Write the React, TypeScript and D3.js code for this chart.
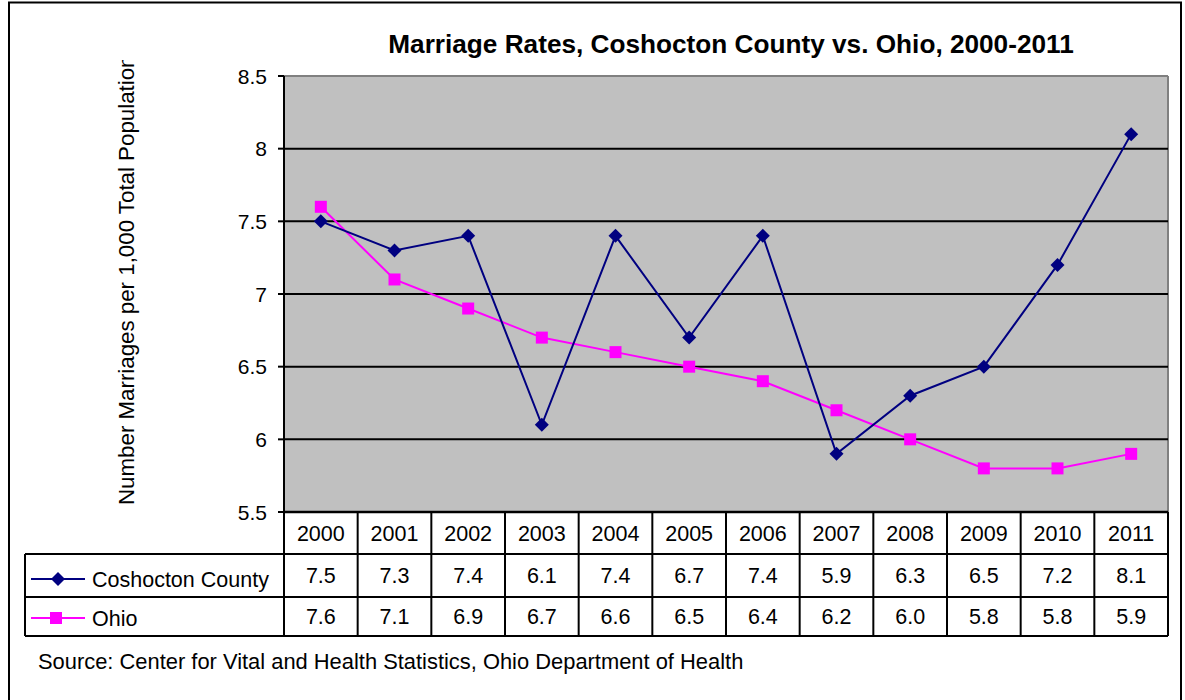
import React from "react";
import * as d3 from "d3";

const years = ["2000","2001","2002","2003","2004","2005","2006","2007","2008","2009","2010","2011"];
const coshocton = [7.5, 7.3, 7.4, 6.1, 7.4, 6.7, 7.4, 5.9, 6.3, 6.5, 7.2, 8.1];
const ohio = [7.6, 7.1, 6.9, 6.7, 6.6, 6.5, 6.4, 6.2, 6.0, 5.8, 5.8, 5.9];
const yTicks = [5.5, 6, 6.5, 7, 7.5, 8, 8.5];
const seriesNames = ["Coshocton County", "Ohio"];

const W = 1185, H = 700;
const L = 284, R = 1168, T = 76, B = 512;
const rowB = [554, 597, 636];
const tableLeft = 25;
const FONT = "Liberation Sans, Arial, sans-serif";
const FS = 21.5;

export default function App() {
  const x = d3.scaleBand<string>().domain(years).range([L, R]);
  const y = d3.scaleLinear().domain([5.5, 8.5]).range([B, T]);
  const line = d3.line<number>().x((_, i) => x(years[i])! + x.bandwidth() / 2).y(d => y(d));
  const cx = (i: number) => x(years[i])! + x.bandwidth() / 2;
  const fmt = d3.format(".1f");

  return (
    <svg width={W} height={H} style={{ position: "absolute", left: 0, top: 0, display: "block" }} fontFamily={FONT}>
      <defs>
        <clipPath id="ylab"><rect x={0} y={60} width={300} height={640} /></clipPath>
      </defs>
      <rect x={0} y={0} width={W} height={H} fill="#fff" />
      <rect x={9} y={2.5} width={1172} height={720} fill="#fff" stroke="#000" strokeWidth={2} />
      <text x={731} y={53} textAnchor="middle" fontSize={26.2} fontWeight="bold">Marriage Rates, Coshocton County vs. Ohio, 2000-2011</text>

      {/* plot area */}
      <rect x={L} y={T} width={R - L} height={B - T} fill="#C0C0C0" />
      <line x1={L} x2={R} y1={T} y2={T} stroke="#808080" strokeWidth={2} />
      <line x1={R} x2={R} y1={T} y2={B} stroke="#808080" strokeWidth={2} />
      {yTicks.filter(v => v > 5.5 && v < 8.5).map(v => (
        <line key={v} x1={L} x2={R} y1={y(v)} y2={y(v)} stroke="#000" strokeWidth={2} />
      ))}
      <line x1={L} x2={L} y1={T} y2={B} stroke="#000" strokeWidth={2} />
      {yTicks.map(v => (
        <g key={"t" + v}>
          <line x1={L - 6} x2={L} y1={y(v)} y2={y(v)} stroke="#000" strokeWidth={2} />
          <text x={267} y={y(v) + 7.5} textAnchor="end" fontSize={21}>{String(v)}</text>
        </g>
      ))}

      <g clipPath="url(#ylab)">
        <text transform={`translate(134,505) rotate(-90)`} textAnchor="start" fontSize={22.3}>
          Number Marriages per 1,000 Total Population
        </text>
      </g>

      {/* lines */}
      <path d={line(ohio)!} fill="none" stroke="#FF00FF" strokeWidth={2} />
      <path d={line(coshocton)!} fill="none" stroke="#000080" strokeWidth={2} />
      {ohio.map((v, i) => (
        <rect key={"o" + i} x={cx(i) - 6} y={y(v) - 6} width={12} height={12} fill="#FF00FF" />
      ))}
      {coshocton.map((v, i) => (
        <path key={"c" + i} d={`M${cx(i)},${y(v) - 7}L${cx(i) + 7},${y(v)}L${cx(i)},${y(v) + 7}L${cx(i) - 7},${y(v)}Z`} fill="#000080" />
      ))}

      {/* table */}
      <line x1={L} x2={R} y1={B} y2={B} stroke="#000" strokeWidth={2.5} />
      {rowB.map(r => (
        <line key={"r" + r} x1={tableLeft} x2={R} y1={r} y2={r} stroke="#000" strokeWidth={2} />
      ))}
      <line x1={tableLeft} x2={tableLeft} y1={rowB[0]} y2={rowB[2]} stroke="#000" strokeWidth={2} />
      {years.map(yr => (
        <line key={"v" + yr} x1={x(yr)!} x2={x(yr)!} y1={B} y2={rowB[2]} stroke="#000" strokeWidth={2} />
      ))}
      <line x1={R} x2={R} y1={B} y2={rowB[2]} stroke="#000" strokeWidth={2} />
      {years.map((yr, i) => (
        <text key={"h" + yr} x={cx(i)} y={(B + rowB[0]) / 2 + 7.5} textAnchor="middle" fontSize={FS}>{yr}</text>
      ))}
      {coshocton.map((v, i) => (
        <text key={"cv" + i} x={cx(i)} y={(rowB[0] + rowB[1]) / 2 + 7.5} textAnchor="middle" fontSize={FS}>{fmt(v)}</text>
      ))}
      {ohio.map((v, i) => (
        <text key={"ov" + i} x={cx(i)} y={(rowB[1] + rowB[2]) / 2 + 7.5} textAnchor="middle" fontSize={FS}>{fmt(v)}</text>
      ))}

      {/* legend keys */}
      <line x1={31} x2={85} y1={579} y2={579} stroke="#000080" strokeWidth={2} />
      <path d="M58,572L65,579L58,586L51,579Z" fill="#000080" />
      <text x={92} y={586.5} fontSize={FS}>{seriesNames[0]}</text>
      <line x1={31} x2={85} y1={618} y2={618} stroke="#FF00FF" strokeWidth={2} />
      <rect x={50} y={612} width={12} height={12} fill="#FF00FF" />
      <text x={92} y={626} fontSize={FS}>{seriesNames[1]}</text>

      <text x={38} y={669} fontSize={21.9}>Source: Center for Vital and Health Statistics, Ohio Department of Health</text>
    </svg>
  );
}
